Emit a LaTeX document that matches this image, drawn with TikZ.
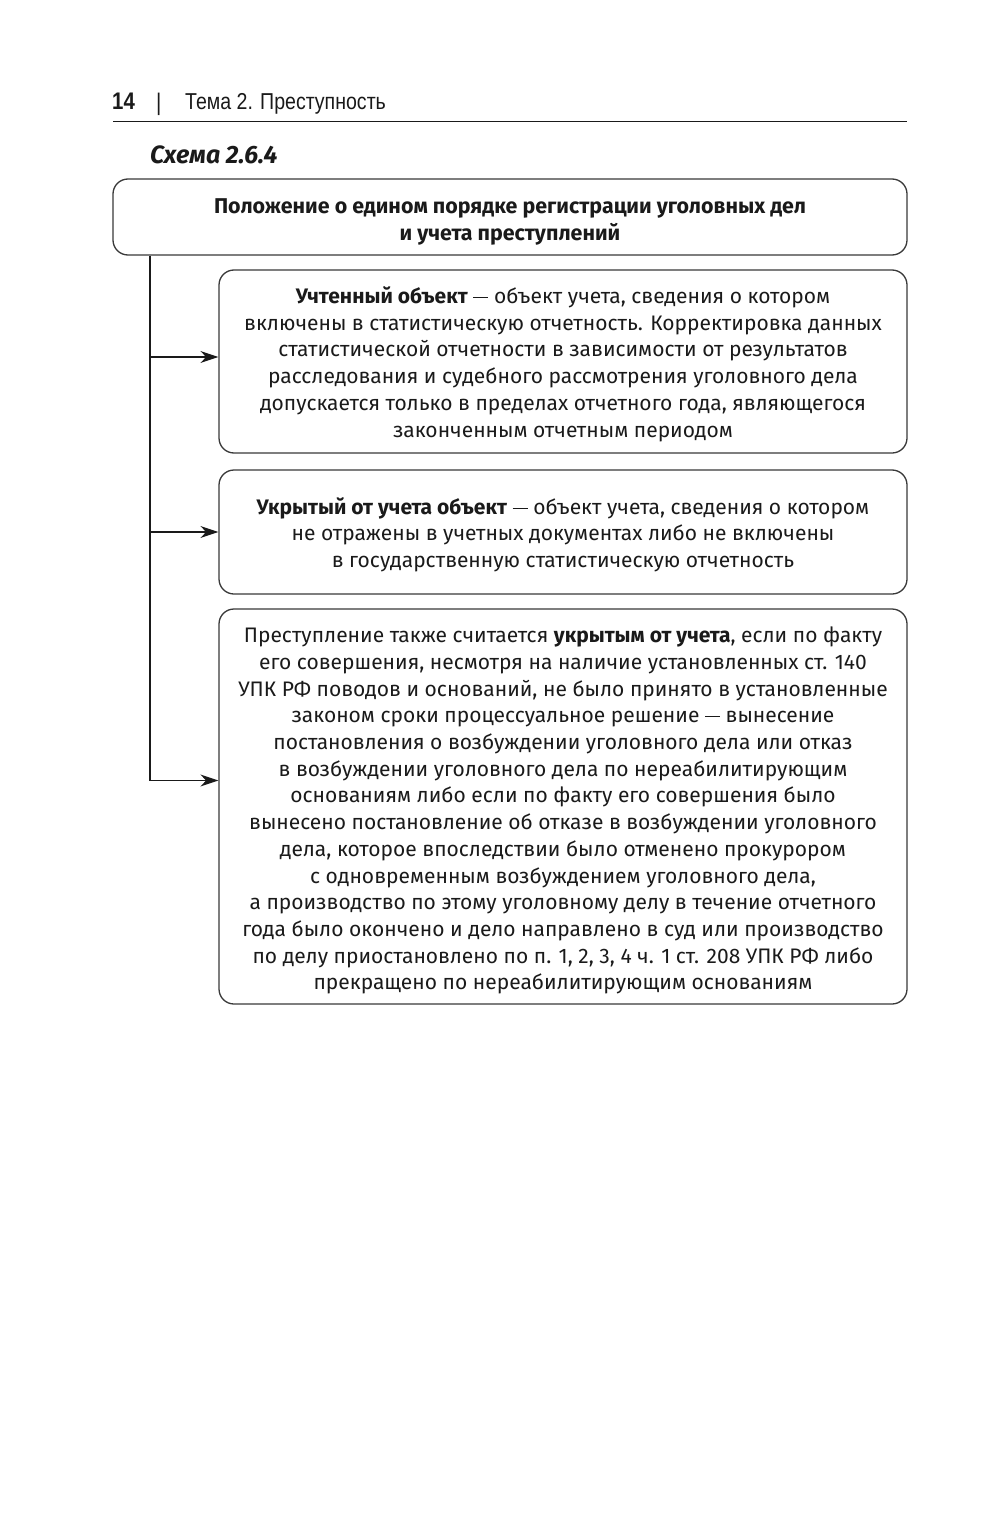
\documentclass[tikz,border=0pt]{standalone}
\usepackage{fontspec}
\setmainfont{Fira Sans}
\newfontfamily\condfont[FakeStretch=0.85]{Liberation Sans}
\usetikzlibrary{arrows.meta}
\definecolor{ink}{HTML}{1A1A1A}
\definecolor{edge}{HTML}{3A3A3A}
\newcommand\mydash{\rule[0.26em]{0.72em}{0.05em}}
\newcommand\lift[1]{\rule{0pt}{#1pt}}
\tikzset{
  box/.style={draw=edge, line width=1.3pt, rounded corners=15pt, align=center,
    text=ink, inner sep=0pt, font=\fontsize{21}{26.7}\selectfont},
  link/.style={draw=ink, line width=1.4pt},
  arr/.style={link, -{Stealth[length=18pt,width=12pt]}},
}
\begin{document}
\begin{tikzpicture}[x=1pt,y=-1pt]
\useasboundingbox[fill=white] (0,0) rectangle (1000,1522);
% header
\node[anchor=base west, text=ink, font=\condfont\bfseries\fontsize{24}{26}\selectfont, inner sep=0pt] (pg) at (112,110) {14};
\node[anchor=base west, text=ink, font=\condfont\fontsize{24}{26}\selectfont, inner sep=0pt] (bar) at (156,111) {|};
\node[anchor=base west, text=ink, font=\condfont\fontsize{23}{26}\selectfont, inner sep=0pt] (ttl) at (185,110) {Тема 2. Преступность};
\coordinate (r0) at (113,122);
\coordinate (r1) at (907,122);
\draw[link, line width=1pt] (r0) -- (r1);
\node[anchor=base west, text=ink, font=\bfseries\itshape\fontsize{25}{28}\selectfont, inner sep=0pt] (cap) at (150,164) {Схема 2.6.4};
% boxes
\node[box, minimum width=794pt, minimum height=76pt, font=\bfseries\fontsize{21.4}{26.7}\selectfont] (b1) at (510,217)
{\lift{25}Положение о едином порядке регистрации уголовных дел\\и учета преступлений};
\node[box, minimum width=688pt, minimum height=183pt] (b2) at (563,361.5)
{\lift{22}\textbf{Учтенный объект} \mydash{} объект учета, сведения о котором\\
включены в статистическую отчетность. Корректировка данных\\
статистической отчетности в зависимости от результатов\\
расследования и судебного рассмотрения уголовного дела\\
допускается только в пределах отчетного года, являющегося\\
законченным отчетным периодом};
\node[box, minimum width=688pt, minimum height=124pt] (b3) at (563,532)
{\lift{22}\textbf{Укрытый от учета объект} \mydash{} объект учета, сведения о котором\\
не отражены в учетных документах либо не включены\\
в государственную статистическую отчетность};
\node[box, minimum width=688pt, minimum height=395pt] (b4) at (563,806.5)
{\lift{24}Преступление также считается \textbf{укрытым от учета}, если по факту\\
его совершения, несмотря на наличие установленных ст. 140\\
УПК РФ поводов и оснований, не было принято в установленные\\
законом сроки процессуальное решение \mydash{} вынесение\\
постановления о возбуждении уголовного дела или отказ\\
в возбуждении уголовного дела по нереабилитирующим\\
основаниям либо если по факту его совершения было\\
вынесено постановление об отказе в возбуждении уголовного\\
дела, которое впоследствии было отменено прокурором\\
с одновременным возбуждением уголовного дела,\\
а производство по этому уголовному делу в течение отчетного\\
года было окончено и дело направлено в суд или производство\\
по делу приостановлено по п. 1, 2, 3, 4 ч. 1 ст. 208 УПК РФ либо\\
прекращено по нереабилитирующим основаниям};
% connectors
\coordinate (tx) at (150,0);
\draw[arr] (b1.south -| tx) |- ([yshift=26pt]b4.west);
\draw[arr] (tx |- b2.west) ++(0,-4.5) -- ([yshift=4.5pt]b2.west);
\draw[arr] (tx |- b3.west) -- (b3.west);
\end{tikzpicture}
\end{document}
